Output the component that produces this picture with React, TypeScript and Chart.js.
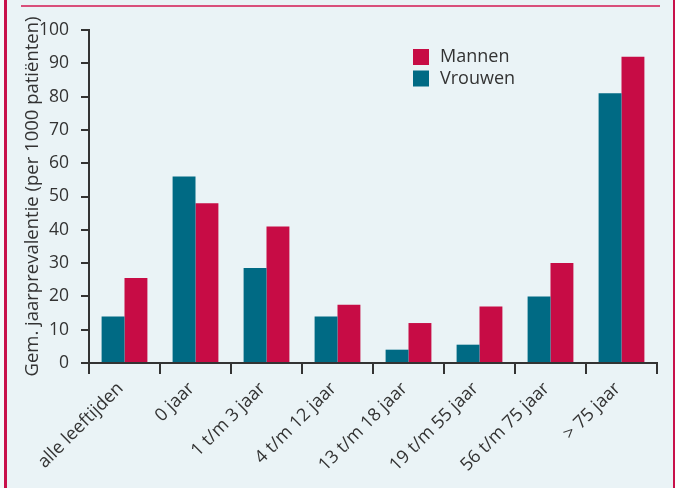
import React, { useEffect, useRef } from "react";
import { Chart, registerables } from "chart.js";

Chart.register(...registerables);

const categories = [
  "alle leeftijden",
  "0 jaar",
  "1 t/m 3 jaar",
  "4 t/m 12 jaar",
  "13 t/m 18 jaar",
  "19 t/m 55 jaar",
  "56 t/m 75 jaar",
  "> 75 jaar",
];
const vrouwen = [14, 56, 28.5, 14, 4, 5.5, 20, 81];
const mannen = [25.5, 48, 41, 17.5, 12, 17, 30, 92];
const yTitle = "Gem. jaarprevalentie (per 1000 patiënten)";
const legendLabels = ["Mannen", "Vrouwen"];

const TEAL = "#006a84";
const CRIMSON = "#c70c45";
const INK = "#333333";
const FONT = "'Open Sans', sans-serif";

const legendPlugin = {
  id: "customLegend",
  afterDraw(chart: any) {
    const ctx = chart.ctx;
    ctx.save();
    const items = [
      { label: legendLabels[0], color: CRIMSON },
      { label: legendLabels[1], color: TEAL },
    ];
    items.forEach((it, i) => {
      const y = 49 + i * 21.5;
      ctx.fillStyle = it.color;
      ctx.fillRect(413, y, 16, 16);
      ctx.fillStyle = INK;
      ctx.font = `18px ${FONT}`;
      ctx.textBaseline = "middle";
      ctx.textAlign = "left";
      ctx.fillText(it.label, 440, y + 8);
    });
    ctx.restore();
  },
};

export default function App() {
  const ref = useRef<HTMLCanvasElement>(null);
  useEffect(() => {
    const chart = new Chart(ref.current!, {
      type: "bar",
      data: {
        labels: categories,
        datasets: [
          { label: "Vrouwen", data: vrouwen, backgroundColor: TEAL },
          { label: "Mannen", data: mannen, backgroundColor: CRIMSON },
        ],
      },
      options: {
        responsive: false,
        animation: false,
        devicePixelRatio: 1,
        layout: { padding: { top: 30, right: 18, left: 0, bottom: 0 } },
        datasets: { bar: { categoryPercentage: 0.645, barPercentage: 1 } },
        plugins: { legend: { display: false }, tooltip: { enabled: false } },
        scales: {
          x: {
            grid: {
              display: true,
              drawOnChartArea: false,
              drawTicks: true,
              tickLength: 11,
              color: INK,
              lineWidth: 2,
              offset: true,
            },
            border: { display: true, color: INK, width: 2 },
            ticks: {
              minRotation: 45,
              maxRotation: 45,
              color: INK,
              font: { family: FONT, size: 18 },
              padding: 4,
              labelOffset: -4,
              autoSkip: false,
            },
            afterFit: (s: any) => {
              s.height = 125;
            },
          },
          y: {
            min: 0,
            max: 100,
            grid: {
              display: true,
              drawOnChartArea: false,
              drawTicks: true,
              tickLength: 8,
              color: INK,
              lineWidth: 2,
            },
            border: { display: true, color: INK, width: 2 },
            ticks: {
              stepSize: 10,
              color: INK,
              font: { family: FONT, size: 17.5 },
              padding: 12,
            },
            title: {
              display: true,
              text: yTitle,
              color: INK,
              font: { family: FONT, size: 18.5 },
              padding: { top: 22, bottom: 0 },
            },
            afterFit: (s: any) => {
              s.width = 89;
            },
          },
        },
      },
      plugins: [legendPlugin],
    });
    return () => chart.destroy();
  }, []);

  return (
    <div
      style={{
        position: "absolute",
        left: 0,
        top: 0,
        width: 675,
        height: 488,
        background: "#f4f8f9",
        overflow: "hidden",
      }}
    >
      <div
        style={{
          position: "absolute",
          left: 7,
          top: 0,
          width: 666,
          height: 488,
          background: "#eaf3f6",
        }}
      />
      <div
        style={{
          position: "absolute",
          left: 4,
          top: 0,
          width: 3,
          height: 488,
          background: "#c8104a",
        }}
      />
      <div
        style={{
          position: "absolute",
          left: 673,
          top: 0,
          width: 2,
          height: 488,
          background: "#c8104a",
        }}
      />
      <div
        style={{
          position: "absolute",
          left: 21,
          top: 5,
          width: 639,
          height: 2,
          background: "#d94f7b",
        }}
      />
      <canvas
        ref={ref}
        width={675}
        height={488}
        style={{ position: "absolute", left: 0, top: 0, width: 675, height: 488 }}
      />
    </div>
  );
}
